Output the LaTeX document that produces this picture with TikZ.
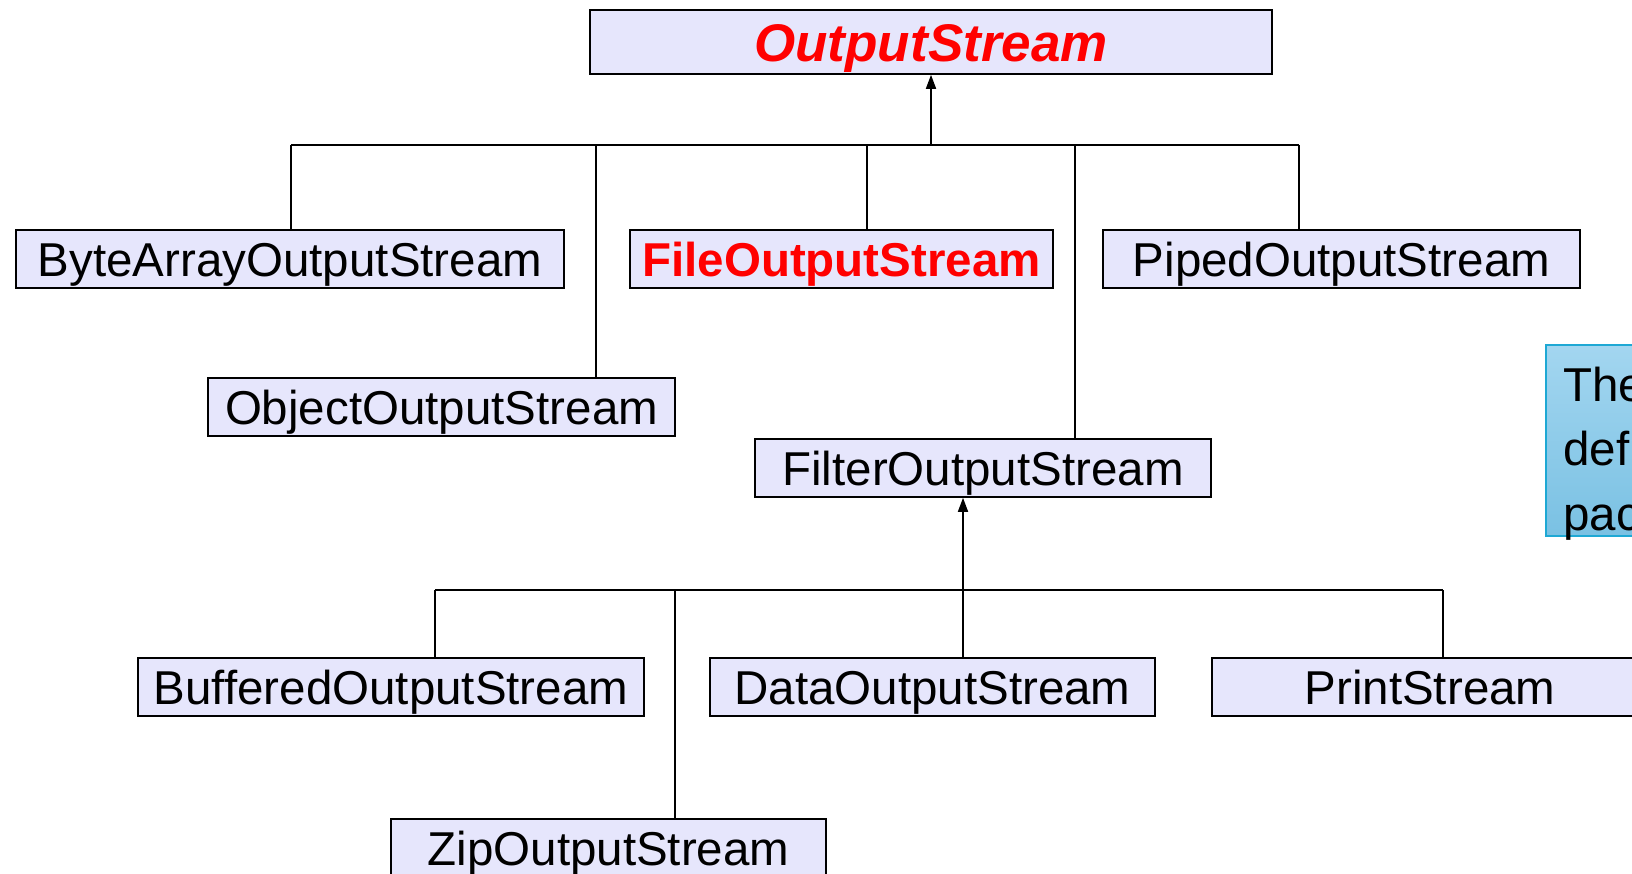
\documentclass[tikz,border=0pt]{standalone}
\usepackage{fontspec}
\setmainfont{Liberation Sans}
\usetikzlibrary{arrows.meta}
\definecolor{boxfill}{RGB}{230,230,252}
\definecolor{titlered}{RGB}{255,0,0}
\definecolor{notetop}{RGB}{163,214,240}
\definecolor{notebot}{RGB}{122,193,227}
\definecolor{noteedge}{RGB}{30,168,212}
\begin{document}
\begin{tikzpicture}[x=1pt,y=-1pt,
  cls/.style={draw=black, line width=1.6pt, fill=boxfill, inner sep=0pt,
    minimum height=58pt, text height=46.4pt, text depth=11.6pt,
    font=\fontsize{47.5}{57}\selectfont},
  root/.style={cls, minimum height=64pt, text height=51.7pt, text depth=12.3pt,
    font=\fontsize{53}{62}\selectfont\bfseries\itshape, text=titlered},
  hot/.style={cls, font=\fontsize{47.5}{57}\selectfont\bfseries, text=titlered},
  link/.style={draw=black, line width=1.6pt},
  inherit/.style={link, -{Triangle[length=14pt,width=10pt]}},
  note/.style={draw=noteedge, line width=1.6pt, top color=notetop, bottom color=notebot,
    inner sep=0pt},
  notetext/.style={anchor=base west, inner sep=0pt,
    font=\fontsize{47.5}{57}\selectfont}]
\useasboundingbox (0,0) rectangle (1632,874);
\clip (0,0) rectangle (1632,874);

% class boxes
\node[root, minimum width=682pt] (OS)   at (931,42)   {OutputStream};
\node[cls,  minimum width=548pt] (BAOS) at (290,259)  {ByteArrayOutputStream};
\node[hot,  minimum width=423pt] (FOS)  at (841.5,259){FileOutputStream};
\node[cls,  minimum width=477pt] (POS)  at (1341.5,259){PipedOutputStream};
\node[cls,  minimum width=467pt] (OOS)  at (441.5,407){ObjectOutputStream};
\node[cls,  minimum width=456pt] (FiOS) at (983,468)  {FilterOutputStream};
\node[cls,  minimum width=506pt] (BOS)  at (391,687)  {BufferedOutputStream};
\node[cls,  minimum width=445pt] (DOS)  at (932.5,687){DataOutputStream};
\node[cls,  minimum width=436pt] (PS)   at (1430,687) {PrintStream};
\node[cls,  minimum width=435pt] (ZOS)  at (608.5,848){ZipOutputStream};

% note box at the right edge
\node[note, minimum width=400pt, minimum height=191pt, anchor=north west] (NOTE) at (1545,344) {};
\node[notetext] (n1) at (1563,401) {The};
\node[notetext] (n2) at (1563,465) {def};
\node[notetext] (n3) at (1563,530) {pac};

% first level hierarchy
\coordinate (h1)  at (931,145);
\coordinate (b1a) at (291,145);
\coordinate (b1b) at (596,145);
\coordinate (b1c) at (867,145);
\coordinate (b1d) at (1075,145);
\coordinate (b1e) at (1299,145);
\draw[link] (b1a) -- (b1e);
\draw[inherit] (h1) -- (h1 |- OS.south);
\draw[link] (BAOS.north -| b1a) -- (b1a);
\draw[link] (OOS.north -| b1b) -- (b1b);
\draw[link] (FOS.north -| b1c) -- (b1c);
\draw[link] (FiOS.north -| b1d) -- (b1d);
\draw[link] (POS.north -| b1e) -- (b1e);

% second level hierarchy
\coordinate (h2)  at (963,590);
\coordinate (b2a) at (435,590);
\coordinate (b2b) at (675,590);
\coordinate (b2c) at (1443,590);
\draw[link] (b2a) -- (b2c);
\draw[inherit] (h2) -- (h2 |- FiOS.south);
\draw[link] (BOS.north -| b2a) -- (b2a);
\draw[link] (ZOS.north -| b2b) -- (b2b);
\draw[link] (DOS.north -| h2) -- (h2);
\draw[link] (PS.north -| b2c) -- (b2c);
\end{tikzpicture}
\end{document}
